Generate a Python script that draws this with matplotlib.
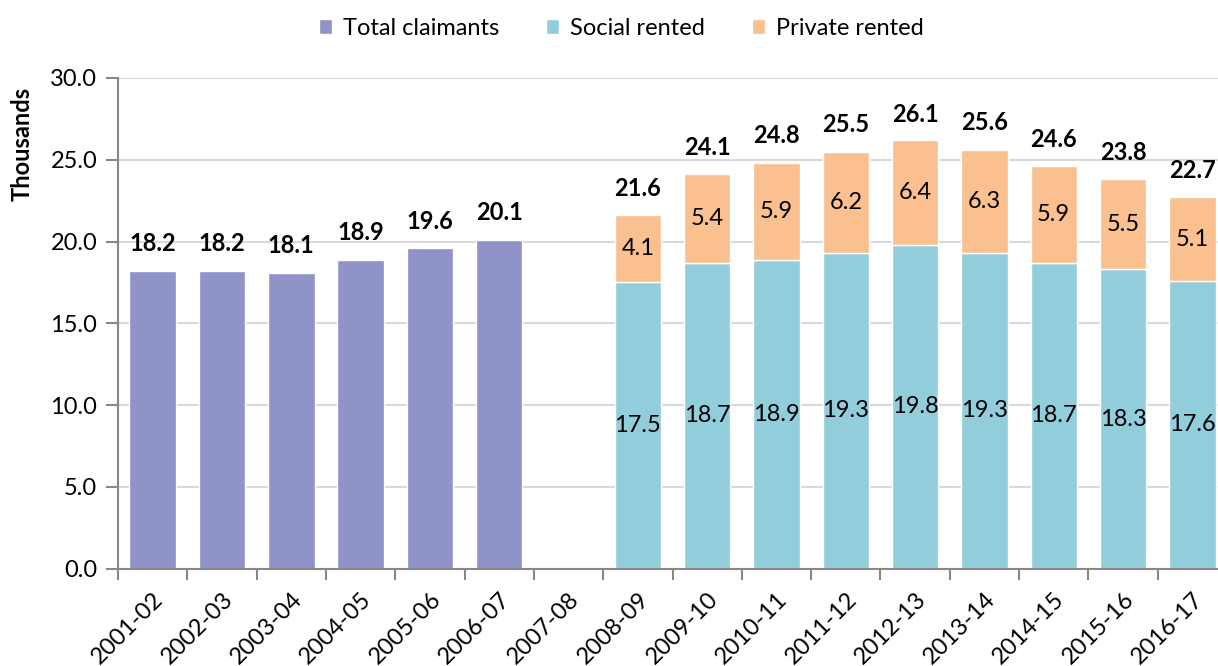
import numpy as np
import matplotlib.pyplot as plt

plt.rcParams['font.family'] = ['Lato', 'DejaVu Sans']

# data
years = ["2001-02", "2002-03", "2003-04", "2004-05", "2005-06", "2006-07",
         "2007-08", "2008-09", "2009-10", "2010-11", "2011-12", "2012-13",
         "2013-14", "2014-15", "2015-16", "2016-17"]
total = [18.2, 18.2, 18.1, 18.9, 19.6, 20.1, np.nan, np.nan, np.nan, np.nan,
         np.nan, np.nan, np.nan, np.nan, np.nan, np.nan]
social = [np.nan] * 7 + [17.5, 18.7, 18.9, 19.3, 19.8, 19.3, 18.7, 18.3, 17.6]
private = [np.nan] * 7 + [4.1, 5.4, 5.9, 6.2, 6.4, 6.3, 5.9, 5.5, 5.1]
stack_total = [np.nan] * 7 + [21.6, 24.1, 24.8, 25.5, 26.1, 25.6, 24.6, 23.8, 22.7]

c_total = "#8F93C7"
c_social = "#92CDDC"
c_private = "#FAC090"

fig = plt.figure(figsize=(12.18, 6.66), dpi=100)
ax = fig.add_axes([0.0969, 0.146, 0.9105, 0.737])

x = np.arange(len(years))
w = 0.67
social_arr = np.array(social)

ax.bar(x, total, w, color=c_total, edgecolor="white", linewidth=1, label="Total claimants", zorder=2)
ax.bar(x, social, w, color=c_social, edgecolor="white", linewidth=1, label="Social rented", zorder=2)
ax.bar(x, private, w, bottom=social_arr, color=c_private, edgecolor="white", linewidth=1,
       label="Private rented", zorder=2)

fs = 17
for i in range(len(years)):
    if not np.isnan(total[i]):
        ax.text(x[i], total[i] + 0.95, f"{total[i]:.1f}", ha="center", va="bottom",
                fontsize=fs, fontweight="bold")
    if not np.isnan(social[i]):
        ax.text(x[i], social[i] / 2, f"{social[i]:.1f}", ha="center", va="center", fontsize=fs)
        ax.text(x[i], social[i] + private[i] / 2, f"{private[i]:.1f}", ha="center", va="center",
                fontsize=fs)
        ax.text(x[i], stack_total[i] + 0.95, f"{stack_total[i]:.1f}", ha="center", va="bottom",
                fontsize=fs, fontweight="bold")

ax.set_xlim(-0.5, len(years) - 0.5)
ax.set_ylim(0, 30)
ax.set_yticks(np.arange(0, 30.1, 5))
ax.set_yticklabels([f"{v:.1f}" for v in np.arange(0, 30.1, 5)], fontsize=fs)
ax.set_xticks(x)
ax.set_xticklabels(years, rotation=45, ha="right", rotation_mode="anchor", fontsize=fs)
ax.tick_params(axis="x", length=0, pad=14)
ax.set_xticks(np.arange(-0.5, len(years), 1), minor=True)
ax.tick_params(axis="x", which="minor", length=8, color="#888888", width=1.5)
ax.tick_params(axis="y", length=9, color="#888888", width=1.5, pad=6)

ax.yaxis.grid(True, color="#D9D9D9", linewidth=1.5, zorder=0)
ax.set_axisbelow(True)
for s in ["top", "right"]:
    ax.spines[s].set_visible(False)
for s in ["left", "bottom"]:
    ax.spines[s].set_color("#888888")
    ax.spines[s].set_linewidth(1.5)

ax.set_ylabel("Thousands", fontsize=fs, fontweight="bold", va="center")
ax.yaxis.set_label_coords(-0.0866, 0.865)

fig.legend(loc="upper center", bbox_to_anchor=(0.51, 1.005), ncol=3, frameon=False, fontsize=fs,
           handlelength=0.55, handleheight=0.55, handletextpad=0.45, columnspacing=2.0)

fig.savefig("out.png", dpi=100)
